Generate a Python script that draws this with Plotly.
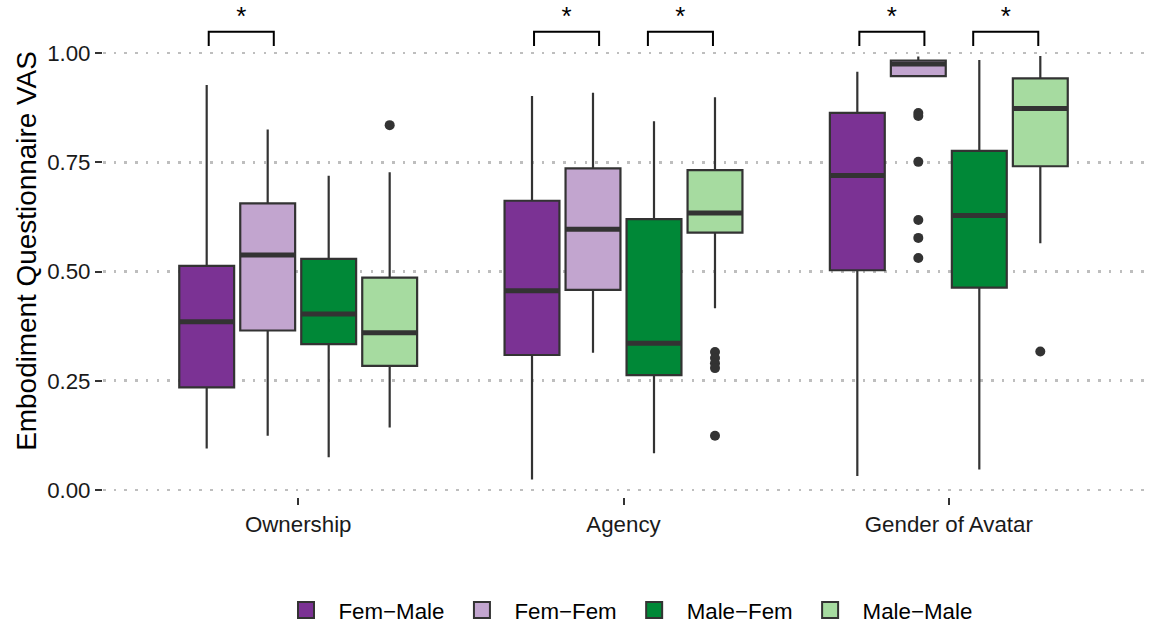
import plotly.graph_objects as go

# ---------------- data ----------------
categories = ["Ownership", "Agency", "Gender of Avatar"]
groups = ["Fem−Male", "Fem−Fem", "Male−Fem", "Male−Male"]
colors = ["#7B3294", "#C2A5CF", "#008837", "#A6DBA0"]

# box statistics per group, in category order
lowerfence = {
    "Fem−Male": [0.095, 0.024, 0.032],
    "Fem−Fem": [0.124, 0.314, 0.945],
    "Male−Fem": [0.075, 0.084, 0.047],
    "Male−Male": [0.143, 0.416, 0.565],
}
q1 = {
    "Fem−Male": [0.235, 0.309, 0.503],
    "Fem−Fem": [0.365, 0.458, 0.947],
    "Male−Fem": [0.334, 0.263, 0.463],
    "Male−Male": [0.284, 0.589, 0.741],
}
median = {
    "Fem−Male": [0.385, 0.456, 0.720],
    "Fem−Fem": [0.538, 0.597, 0.975],
    "Male−Fem": [0.403, 0.336, 0.628],
    "Male−Male": [0.360, 0.634, 0.873],
}
q3 = {
    "Fem−Male": [0.513, 0.662, 0.863],
    "Fem−Fem": [0.656, 0.736, 0.983],
    "Male−Fem": [0.529, 0.620, 0.776],
    "Male−Male": [0.486, 0.732, 0.942],
}
upperfence = {
    "Fem−Male": [0.927, 0.902, 0.957],
    "Fem−Fem": [0.825, 0.909, 0.992],
    "Male−Fem": [0.719, 0.844, 0.984],
    "Male−Male": [0.727, 0.899, 0.993],
}
# outliers: (group, category, value)
outlier_group = ["Male−Male", "Male−Male", "Male−Male", "Male−Male", "Male−Male", "Male−Male",
                 "Fem−Fem", "Fem−Fem", "Fem−Fem", "Fem−Fem", "Fem−Fem", "Fem−Fem", "Male−Male"]
outlier_cat = ["Ownership", "Agency", "Agency", "Agency", "Agency", "Agency",
               "Gender of Avatar", "Gender of Avatar", "Gender of Avatar", "Gender of Avatar",
               "Gender of Avatar", "Gender of Avatar", "Gender of Avatar"]
outlier_val = [0.835, 0.316, 0.302, 0.290, 0.279, 0.124,
               0.863, 0.856, 0.751, 0.618, 0.577, 0.531, 0.317]

# significance comparisons
sig_cat = ["Ownership", "Agency", "Agency", "Gender of Avatar", "Gender of Avatar"]
sig_pair = [0, 0, 1, 0, 1]          # 0: Fem-Male vs Fem-Fem, 1: Male-Fem vs Male-Male
sig_label = ["*", "*", "*", "*", "*"]
sig_top = 1.049
sig_tip = 1.016

y_ticks = [0.00, 0.25, 0.50, 0.75, 1.00]
y_ticktext = ["0.00", "0.25", "0.50", "0.75", "1.00"]

# ---------------- layout constants ----------------
dodge = 0.75
n = len(groups)
offsets = [(-dodge / 2 + dodge / n * (k + 0.5)) for k in range(n)]
box_w = dodge / n * 0.9
pair_span = [(-0.275, -0.075), (0.075, 0.275)]
edge = "#333333"
tick_size = 22.3
title_size = 27.9

fig = go.Figure()

for k, g in enumerate(groups):
    xs = [i + offsets[k] for i in range(len(categories))]
    fig.add_trace(go.Box(
        x=xs, q1=q1[g], median=median[g], q3=q3[g],
        lowerfence=lowerfence[g], upperfence=upperfence[g],
        width=box_w, name=g, fillcolor=colors[k],
        line=dict(color=edge, width=2.2), whiskerwidth=0,
        boxpoints=False, hoverinfo="skip", legendgroup=g, showlegend=False,
    ))
    # legend key (larger filled square, like the ggplot key)
    fig.add_trace(go.Scatter(
        x=[None], y=[None], mode="markers", name=g, legendgroup=g, legendrank=k + 1,
        marker=dict(symbol="square", size=22, color=colors[k], line=dict(color=edge, width=2)),
        hoverinfo="skip",
    ))

# thicker median lines
for k, g in enumerate(groups):
    mx, my = [], []
    for i in range(len(categories)):
        c = i + offsets[k]
        mx += [c - box_w / 2, c + box_w / 2, None]
        my += [median[g][i], median[g][i], None]
    fig.add_trace(go.Scatter(x=mx, y=my, mode="lines", line=dict(color=edge, width=5),
                             showlegend=False, hoverinfo="skip"))

# outliers
ox = [categories.index(c) + offsets[groups.index(g)] for g, c in zip(outlier_group, outlier_cat)]
fig.add_trace(go.Scatter(x=ox, y=outlier_val, mode="markers",
                         marker=dict(color=edge, size=10), showlegend=False, hoverinfo="skip"))

# significance brackets
bx, by, tx, ty, tt = [], [], [], [], []
for c, p, lab in zip(sig_cat, sig_pair, sig_label):
    i = categories.index(c)
    x1, x2 = i + pair_span[p][0], i + pair_span[p][1]
    bx += [x1, x1, x2, x2, None]
    by += [sig_tip, sig_top, sig_top, sig_tip, None]
    tx.append((x1 + x2) / 2)
    ty.append(sig_top)
    tt.append(lab)
fig.add_trace(go.Scatter(x=bx, y=by, mode="lines", line=dict(color="black", width=2),
                         showlegend=False, hoverinfo="skip", cliponaxis=False))
fig.add_trace(go.Scatter(x=tx, y=ty, mode="text", text=tt, textposition="top center",
                         textfont=dict(size=26, color="black"), showlegend=False,
                         hoverinfo="skip", cliponaxis=False))

fig.update_layout(
    width=1152, height=624,
    margin=dict(l=103, r=8, t=5, b=127, autoexpand=False),
    plot_bgcolor="white", paper_bgcolor="white",
    font=dict(family="Liberation Sans, Arial, sans-serif", color="black", size=tick_size),
    boxmode="overlay",
    hovermode=False,
    legend=dict(orientation="h", xref="container", yref="container",
                x=0.2374, xanchor="left", y=0.0224, yanchor="middle", itemwidth=55,
                itemsizing="trace",
                font=dict(size=tick_size, color="black"), traceorder="normal"),
    xaxis=dict(range=[-0.6, 2.6], tickvals=list(range(len(categories))), ticktext=categories,
               showgrid=False, zeroline=False, showline=False,
               ticks="outside", ticklen=7, tickwidth=2, tickcolor=edge,
               tickfont=dict(size=tick_size, color="#1a1a1a"), automargin=False),
    yaxis=dict(range=[-0.016, 1.110], tickvals=y_ticks, ticktext=y_ticktext,
               showgrid=True, gridcolor="#BEBEBE", gridwidth=2.6, griddash="2.6px,8.1px",
               zeroline=False, showline=False,
               ticks="outside", ticklen=7, tickwidth=2, tickcolor=edge,
               tickfont=dict(size=tick_size, color="#1a1a1a"),
               title=dict(text="Embodiment Questionnaire VAS", font=dict(size=title_size, color="black"),
                          standoff=2),
               automargin=False),
)

# remove the page's default 8px body margin so the figure fills the window exactly
fig.write_html("out.html", config={"displayModeBar": False, "staticPlot": True},
               post_script="document.body.style.margin='0';")
